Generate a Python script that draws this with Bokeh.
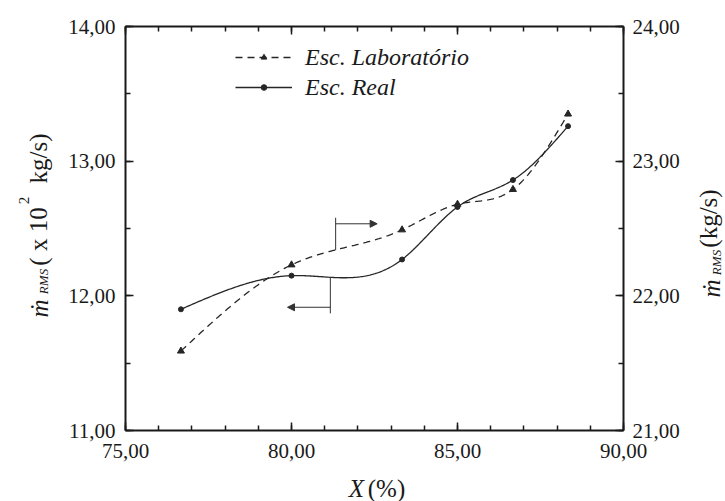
import numpy as np
from bokeh.plotting import figure
from bokeh.layouts import row, column
from bokeh.models import (Range1d, LinearAxis, SingleIntervalTicker, CustomJSTickFormatter,
                          Legend, LegendItem, Label, Arrow, NormalHead)
from bokeh.embed import file_html
from bokeh.resources import INLINE

# ---- data ----
x_pct = [76.67, 80.00, 83.33, 85.00, 86.67, 88.33]
real_left = [11.90, 12.15, 12.27, 12.66, 12.86, 13.26]      # Esc. Real, x 10^2 kg/s (left axis)
lab_right = [21.59, 22.23, 22.49, 22.68, 22.79, 23.35]      # Esc. Laboratório, kg/s (right axis)
x_range_vals = (75, 90)
left_range = (11, 14)
right_range = (21, 24)

FONT = "Liberation Serif"
INK = "#1a1a1a"

# page layout (pixels)
W, H = 725, 501
LEFT_W, RIGHT_W, BOTTOM_H = 62, 35, 25
MAIN_W, MAIN_H = W - LEFT_W - RIGHT_W, H - BOTTOM_H
FRAME_L, FRAME_R, FRAME_T, FRAME_B = 125, 623, 26, 430


def natural_spline(xs, ys, n=300):
    xs = np.asarray(xs, float); ys = np.asarray(ys, float)
    k = len(xs); h = np.diff(xs)
    A = np.zeros((k, k)); b = np.zeros(k)
    A[0, 0] = A[-1, -1] = 1
    for i in range(1, k - 1):
        A[i, i - 1] = h[i - 1]; A[i, i] = 2 * (h[i - 1] + h[i]); A[i, i + 1] = h[i]
        b[i] = 6 * ((ys[i + 1] - ys[i]) / h[i] - (ys[i] - ys[i - 1]) / h[i - 1])
    M = np.linalg.solve(A, b)
    xx = np.linspace(xs[0], xs[-1], n)
    idx = np.clip(np.searchsorted(xs, xx) - 1, 0, k - 2)
    x0, x1 = xs[idx], xs[idx + 1]; hh = x1 - x0
    t0 = x1 - xx; t1 = xx - x0
    yy = (M[idx] * t0 ** 3 / (6 * hh) + M[idx + 1] * t1 ** 3 / (6 * hh)
          + (ys[idx] / hh - M[idx] * hh / 6) * t0 + (ys[idx + 1] / hh - M[idx + 1] * hh / 6) * t1)
    return xx, yy


p = figure(width=MAIN_W, height=MAIN_H, output_backend="svg", toolbar_location=None,
           x_range=Range1d(*x_range_vals), y_range=Range1d(*left_range),
           min_border_left=FRAME_L - LEFT_W, min_border_right=W - RIGHT_W - FRAME_R,
           min_border_top=FRAME_T, min_border_bottom=MAIN_H - FRAME_B, title=None)
p.extra_y_ranges = {"right": Range1d(*right_range)}
p.background_fill_color = "white"
p.border_fill_color = "white"
p.outline_line_color = None
p.grid.visible = False

fmt = CustomJSTickFormatter(code="return tick.toFixed(2).replace('.', ',');")
blank = CustomJSTickFormatter(code="return '';")


def style_axis(ax, formatter, show_labels=True):
    ax.formatter = formatter
    ax.axis_line_color = INK
    ax.axis_line_width = 2
    ax.major_tick_line_color = INK
    ax.minor_tick_line_color = INK
    ax.major_tick_line_width = 1.5
    ax.minor_tick_line_width = 1.5
    ax.major_tick_in = 8
    ax.major_tick_out = 0
    ax.minor_tick_in = 5
    ax.minor_tick_out = 0
    ax.major_label_text_font = FONT
    ax.major_label_text_font_size = "21px" if show_labels else "0px"
    ax.major_label_text_color = INK
    ax.axis_label = None


xa = p.xaxis[0]
xa.ticker = SingleIntervalTicker(interval=5, num_minor_ticks=5)
style_axis(xa, fmt)
xa.major_label_standoff = 13

ya = p.yaxis[0]
ya.ticker = SingleIntervalTicker(interval=1, num_minor_ticks=2)
style_axis(ya, fmt)
ya.major_label_standoff = 10

top = LinearAxis(ticker=SingleIntervalTicker(interval=5, num_minor_ticks=5))
style_axis(top, blank, show_labels=False)
top.major_label_standoff = 0
p.add_layout(top, "above")

right = LinearAxis(y_range_name="right", ticker=SingleIntervalTicker(interval=1, num_minor_ticks=2))
style_axis(right, fmt)
right.major_label_standoff = 9
p.add_layout(right, "right")

# ---- series ----
LINE = "#262626"
xs_l, ys_l = natural_spline(x_pct, lab_right)
lab_line = p.line(xs_l, ys_l, y_range_name="right", line_color=LINE, line_width=1.3, line_dash="7 5")
lab_pts = p.scatter(x_pct, lab_right, y_range_name="right", marker="triangle", size=7,
                    fill_color=LINE, line_color=LINE)

xs_r, ys_r = natural_spline(x_pct, real_left)
real_line = p.line(xs_r, ys_r, line_color=LINE, line_width=1.3)
real_pts = p.scatter(x_pct, real_left, marker="circle", size=5, fill_color=LINE, line_color=LINE)

legend = Legend(items=[LegendItem(label="Esc. Laboratório", renderers=[lab_line, lab_pts]),
                       LegendItem(label="Esc. Real", renderers=[real_line, real_pts])],
                location=(235 - FRAME_L, FRAME_B - 102), orientation="vertical",
                glyph_width=57, glyph_height=14, label_height=30, spacing=0, padding=0, margin=0,
                label_standoff=13, label_text_font=FONT, label_text_font_style="italic",
                label_text_font_size="24px", label_text_color=INK,
                border_line_alpha=0, background_fill_alpha=0)
p.add_layout(legend, "center")

# ---- pointer arrows (which curve belongs to which axis) ----
ac = "#333333"
p.add_layout(Arrow(end=None, x_start=81.17, y_start=12.14, x_end=81.17, y_end=11.87,
                   line_color=ac, line_width=1))
p.add_layout(Arrow(end=NormalHead(size=7, fill_color=ac, line_color=ac, line_width=1),
                   x_start=81.17, y_start=11.915, x_end=79.88, y_end=11.915, line_color=ac, line_width=1))
p.add_layout(Arrow(end=None, x_start=81.33, y_start=12.34, x_end=81.33, y_end=12.58,
                   line_color=ac, line_width=1))
p.add_layout(Arrow(end=NormalHead(size=7, fill_color=ac, line_color=ac, line_width=1),
                   x_start=81.33, y_start=12.535, x_end=82.58, y_end=12.535, line_color=ac, line_width=1))


# ---- axis titles: small text-only figures around the main plot ----
def text_fig(w, h, bl=0, br=0, bt=0, bb=0):
    f = figure(width=w, height=h, output_backend="svg", toolbar_location=None,
               x_axis_type=None, y_axis_type=None, title=None,
               x_range=Range1d(0, 1), y_range=Range1d(0, 1),
               min_border=0, min_border_left=bl, min_border_right=br,
               min_border_top=bt, min_border_bottom=bb)
    f.outline_line_color = None
    f.grid.visible = False
    f.background_fill_color = "white"
    f.border_fill_color = "white"
    return f


def lab_c(f, fx, fy, text, cx, cy, size, style="normal", angle=np.pi / 2):
    # cx, cy: page pixel position of the text box centre
    # fx, fy: page position of the figure frame's left / bottom edge
    f.add_layout(Label(x=cx - fx, y=fy - cy, x_units="screen", y_units="screen", text=text,
                       angle=angle, text_align="center", text_baseline="middle",
                       text_font=FONT, text_font_size=f"{size}px", text_font_style=style,
                       text_color=INK))


# side figures share the main frame's vertical extent
left_fig = text_fig(LEFT_W, MAIN_H, bt=FRAME_T, bb=MAIN_H - FRAME_B)
lab_c(left_fig, 0, FRAME_B, "ṁ", 38.5, 308, 25, "italic")
lab_c(left_fig, 0, FRAME_B, "RMS", 43, 281, 13, "italic")
lab_c(left_fig, 0, FRAME_B, "( x 10", 37.5, 236, 25)
lab_c(left_fig, 0, FRAME_B, "2", 23, 200, 15)
lab_c(left_fig, 0, FRAME_B, "kg/s)", 37.5, 158, 25)

right_fig = text_fig(RIGHT_W, MAIN_H, bt=FRAME_T, bb=MAIN_H - FRAME_B)
rx = W - RIGHT_W
lab_c(right_fig, rx, FRAME_B, "ṁ", 710.5, 288, 25, "italic")
lab_c(right_fig, rx, FRAME_B, "RMS", 715.5, 262, 13, "italic")
lab_c(right_fig, rx, FRAME_B, "(kg/s)", 707.5, 218, 25)

bottom_fig = text_fig(W, BOTTOM_H, bl=FRAME_L, br=W - FRAME_R)
lab_c(bottom_fig, FRAME_L, H, "X", 356, 487.5, 25, "italic", angle=0)
lab_c(bottom_fig, FRAME_L, H, "(%)", 386, 487.5, 25, angle=0)

layout = column(row(left_fig, p, right_fig, spacing=0), bottom_fig, spacing=0)

open("out.html", "w").write(file_html(layout, INLINE))
